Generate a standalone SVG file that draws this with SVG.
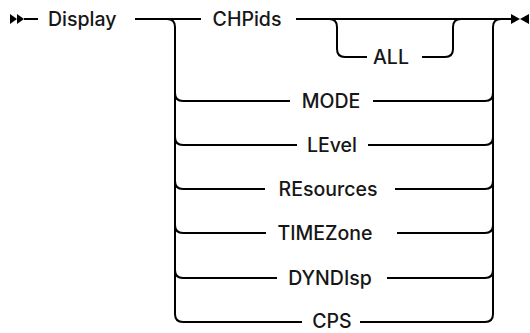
<svg xmlns="http://www.w3.org/2000/svg" width="530" height="333" viewBox="0 0 530 333">
<style>
.ln{fill:none;stroke:#000;stroke-width:2}
.ar{fill:#000;stroke:none}
text{font-family:Inter,"Liberation Sans",Arial,sans-serif;font-size:19.5px;font-weight:500;fill:#161616}
.m{text-anchor:middle}
</style>
<rect width="530" height="333" fill="#fff"/>
<g id="connectors">
<polygon class="ar" points="10,14 17,19 10,24"/>
<polygon class="ar" points="17,14 24,19 17,24"/>
<path class="ln" d="M24 19 H38"/>
<path class="ln" d="M135 19 H201"/>
<path class="ln" d="M296 19 H512"/>
<path class="ln" d="M329 19 Q337 19 337 27 V49 Q337 57 345 57 H367"/>
<path class="ln" d="M422 57 H445 Q453 57 453 49 V27 Q453 19 461 19"/>
<path class="ln" d="M167 19 Q175 19 175 27 V314 Q175 322 183 322 H302"/>
<path class="ln" d="M175 93 Q175 101 183 101 H290"/>
<path class="ln" d="M175 137 Q175 145 183 145 H297"/>
<path class="ln" d="M175 181 Q175 189 183 189 H265"/>
<path class="ln" d="M175 225 Q175 233 183 233 H266"/>
<path class="ln" d="M175 270 Q175 278 183 278 H277"/>
<path class="ln" d="M360 322 H485 Q493 322 493 314 V27 Q493 19 501 19"/>
<path class="ln" d="M373 101 H485 Q493 101 493 93"/>
<path class="ln" d="M368 145 H485 Q493 145 493 137"/>
<path class="ln" d="M395 189 H485 Q493 189 493 181"/>
<path class="ln" d="M397 233 H485 Q493 233 493 225"/>
<path class="ln" d="M387 278 H485 Q493 278 493 270"/>
<polygon class="ar" points="511,14 520,19 511,24"/>
<polygon class="ar" points="529,14 520,19 529,24"/>
</g>
<g id="n-display"><text x="48" y="26">Display</text></g>
<g id="n-chpids"><text class="m" x="247" y="26">CHPids</text></g>
<g id="n-all"><text class="m" x="391" y="64">ALL</text></g>
<g id="n-mode"><text class="m" x="331" y="108">MODE</text></g>
<g id="n-level"><text class="m" x="332" y="152">LEvel</text></g>
<g id="n-resources"><text class="m" x="328" y="196">REsources</text></g>
<g id="n-timezone"><text class="m" x="325" y="240">TIMEZone</text></g>
<g id="n-dyndisp"><text class="m" x="330" y="285">DYNDIsp</text></g>
<g id="n-cps"><text class="m" x="332" y="328">CPS</text></g>
</svg>
